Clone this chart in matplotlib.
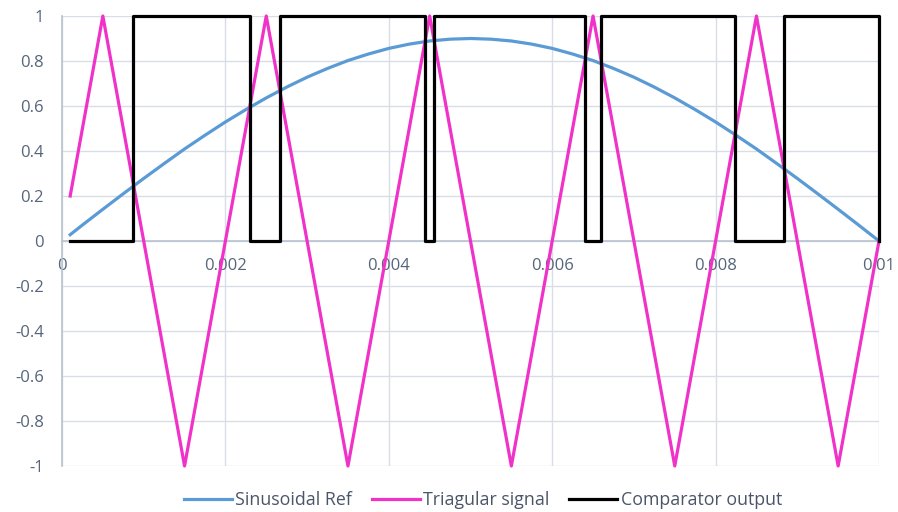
import matplotlib
matplotlib.use("Agg")
import matplotlib.pyplot as plt

# --- data ---
sine_t = [0.0001, 0.00025, 0.0005, 0.00075, 0.001, 0.00125, 0.0015, 0.00175, 0.002, 0.00225,
          0.0025, 0.00275, 0.003, 0.00325, 0.0035, 0.00375, 0.004, 0.00425, 0.0045, 0.00475,
          0.005, 0.00525, 0.0055, 0.00575, 0.006, 0.00625, 0.0065, 0.00675, 0.007, 0.00725,
          0.0075, 0.00775, 0.008, 0.00825, 0.0085, 0.00875, 0.009, 0.00925, 0.0095, 0.00975, 0.01]
sine_v = [0.028, 0.071, 0.141, 0.210, 0.278, 0.344, 0.409, 0.470, 0.529, 0.584,
          0.636, 0.684, 0.728, 0.767, 0.802, 0.831, 0.856, 0.875, 0.889, 0.897,
          0.900, 0.897, 0.889, 0.875, 0.856, 0.831, 0.802, 0.767, 0.728, 0.684,
          0.636, 0.584, 0.529, 0.470, 0.409, 0.344, 0.278, 0.210, 0.141, 0.071, 0.0]

tri_t = [0.0001, 0.0005, 0.0015, 0.0025, 0.0035, 0.0045, 0.0055, 0.0065, 0.0075, 0.0085, 0.0095, 0.01]
tri_v = [0.2, 1, -1, 1, -1, 1, -1, 1, -1, 1, -1, 0]

comp_t = [0.0001, 0.00087, 0.0023, 0.00267, 0.00444, 0.00455, 0.0064, 0.0066, 0.00824, 0.00884, 0.01]
comp_v = [0, 1, 0, 1, 0, 1, 0, 1, 0, 1, 0]

x_ticks = [0, 0.002, 0.004, 0.006, 0.008, 0.01]
x_labels = ["0", "0.002", "0.004", "0.006", "0.008", "0.01"]
y_ticks = [1, 0.8, 0.6, 0.4, 0.2, 0, -0.2, -0.4, -0.6, -0.8, -1]
y_labels = ["1", "0.8", "0.6", "0.4", "0.2", "0", "-0.2", "-0.4", "-0.6", "-0.8", "-1"]

series_names = ["Sinusoidal Ref", "Triagular signal", "Comparator output"]

plt.rcParams['font.family'] = ['Open Sans', 'DejaVu Sans']

W, H = 898, 512
fig = plt.figure(figsize=(W / 100, H / 100), dpi=100)
ax = fig.add_axes([62 / W, 1 - 466 / H, (879 - 62) / W, (466 - 16) / H])

lw = 2.3
ax.plot(sine_t, sine_v, color='#5B9BD5', lw=lw, label=series_names[0], clip_on=False, zorder=3)
ax.plot(tri_t, tri_v, color='#F032C8', lw=lw, label=series_names[1], clip_on=False, zorder=3)
ax.plot(comp_t, comp_v, color='black', lw=lw, drawstyle='steps-post', label=series_names[2],
        clip_on=False, zorder=4)

ax.set_xlim(0, 0.01)
ax.set_ylim(-1, 1)
ax.set_xticks(x_ticks)
ax.set_xticklabels(x_labels)
ax.set_yticks(y_ticks)
ax.set_yticklabels(y_labels)

grid_c = '#D9DEE6'
ax.grid(True, color=grid_c, lw=1.0)
ax.set_axisbelow(True)

for s in ['top', 'right']:
    ax.spines[s].set_visible(False)
ax.spines['left'].set_color('#B8C2D0')
ax.spines['left'].set_linewidth(1.2)
ax.spines['bottom'].set_position(('data', 0))
ax.spines['bottom'].set_color('#B8C2D0')
ax.spines['bottom'].set_linewidth(1.2)

label_c = '#55657A'
ax.tick_params(axis='y', length=0, pad=13, labelsize=12, labelcolor=label_c)
ax.tick_params(axis='x', length=0, pad=12, labelsize=12, labelcolor=label_c)

leg = fig.legend(loc='center', bbox_to_anchor=(483 / W, 1 - 500 / H), ncol=3, frameon=False,
                 fontsize=12.8, handlelength=2.7, handletextpad=0.2, columnspacing=1.1)
for t in leg.get_texts():
    t.set_color('#4A5568')

fig.savefig('out.png', dpi=100)
